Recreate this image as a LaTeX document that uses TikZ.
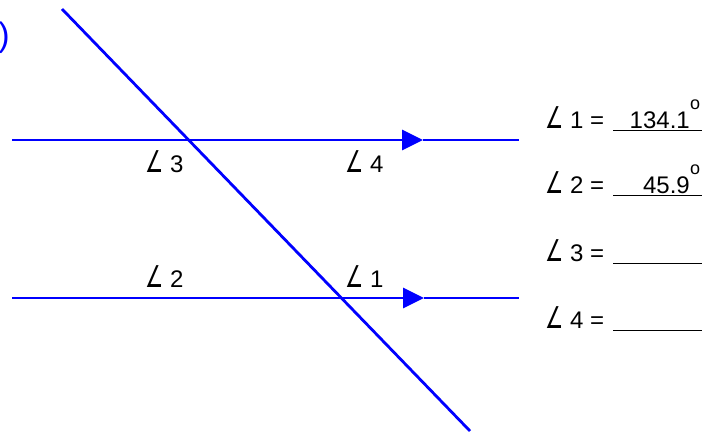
\documentclass[tikz,border=0pt]{standalone}
\usepackage{fontspec}
\setmainfont{Liberation Sans}
\newfontfamily\symfont{DejaVu Sans}
\usetikzlibrary{arrows.meta}
\newcommand{\ang}{\scalebox{0.85}[1.25]{\symfont\char"2220}}

\begin{document}
\begin{tikzpicture}[x=1pt,y=-1pt,
    blueline/.style={blue,line width=2.8pt},
    arrowtip/.style={-{Triangle[length=21pt,width=20pt]}},
    lbl/.style={font=\fontsize{24}{28}\selectfont,inner sep=0pt,anchor=base west},
    blank/.style={line width=1.4pt}]

            \useasboundingbox (0,0) rectangle (716,432);

            \coordinate (top left) at (12,140);
            \coordinate (top tip) at (423,140);
            \coordinate (top right) at (519,140);
            \coordinate (bot left) at (12,298);
            \coordinate (bot tip) at (424,298);
            \coordinate (bot right) at (519,298);
            \coordinate (cut start) at (62,9);
            \coordinate (cut end) at (470,431);

            \draw[blueline,arrowtip] (top left) -- (top tip);
            \draw[blueline] (top tip) -- (top right);
            \draw[blueline,arrowtip] (bot left) -- (bot tip);
            \draw[blueline] (bot tip) -- (bot right);
            \draw[blueline] (cut start) -- (cut end);

            \node[blue,font=\fontsize{34}{38}\selectfont,inner sep=0pt,anchor=east] (paren) at (10,38) {)};

            \node[lbl] (a3) at (145,172) {\ang\ 3};
            \node[lbl] (a4) at (345,172) {\ang\ 4};
            \node[lbl] (a2) at (145,287) {\ang\ 2};
            \node[lbl] (a1) at (345,287) {\ang\ 1};

            \foreach \n/\y in {1/128,2/193,3/261,4/328}
            {
                \node[lbl] (eq\n) at (545,\y) {\ang\ \n\ =};
                \draw[blank] (613,\y+2.5) -- (702,\y+2.5);
            }

            \node[lbl,anchor=base east] (v1) at (690,128) {134.1};
            \node[lbl,anchor=base west,font=\fontsize{18}{20}\selectfont] (d1) at (690,109) {o};
            \node[lbl,anchor=base east] (v2) at (690,193) {45.9};
            \node[lbl,anchor=base west,font=\fontsize{18}{20}\selectfont] (d2) at (690,174) {o};
        \end{tikzpicture}
\end{document}
